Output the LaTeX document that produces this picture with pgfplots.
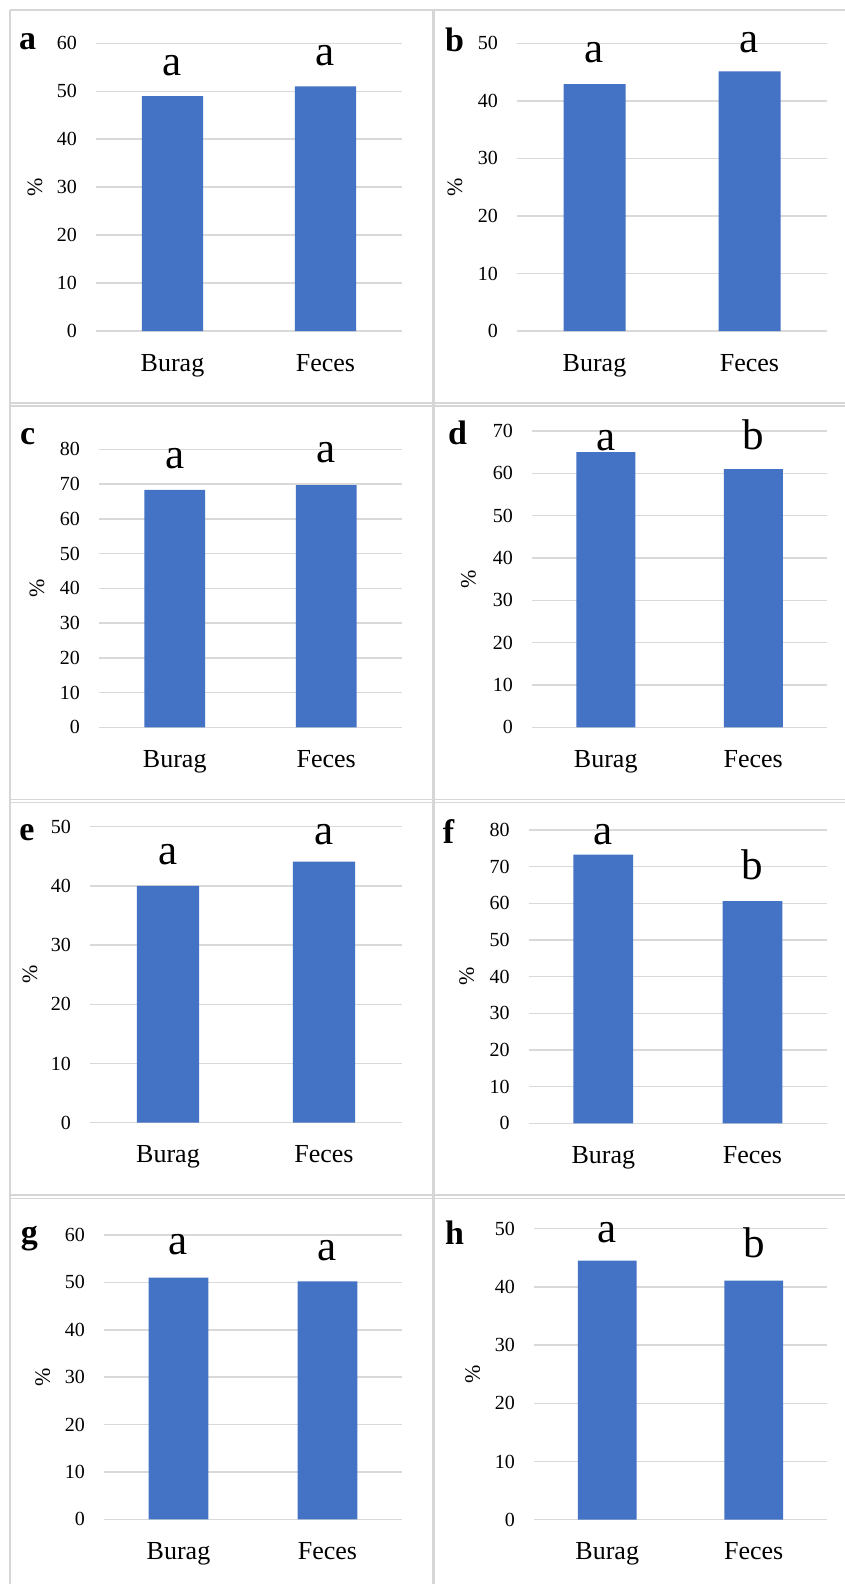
\documentclass[border=0pt]{standalone}
\usepackage{fontspec}
\setmainfont{Liberation Serif}
\usepackage{pgfplots}
\pgfplotsset{compat=1.18}
\definecolor{barblue}{HTML}{4472C4}
\definecolor{gridgray}{HTML}{D9D9D9}
\definecolor{framegray}{HTML}{D6D6D6}
\newcommand{\tickfont}{\fontsize{20}{24}\selectfont}
\newcommand{\catfont}{\fontsize{26}{30}\selectfont}
\newcommand{\sigfont}{\fontsize{43}{50}\selectfont}
\newcommand{\panfont}{\fontsize{34}{40}\selectfont\bfseries}
\newcommand{\pctfont}{\fontsize{22}{26}\selectfont}
\pgfplotsset{panel/.style={
  scale only axis, anchor=south west,
  ymin=0, xmin=-0.5, xmax=1.5,
  xtick={0,1}, xticklabels={Burag,Feces},
  axis line style={draw=none}, major tick length=0pt,
  ymajorgrids, grid style={gridgray, line width=1.5pt},
  xticklabel style={font=\catfont, anchor=north, inner sep=0pt, yshift=-23pt},
  yticklabel style={font=\tickfont, anchor=east, inner sep=0pt, xshift=-19pt},
  /pgf/number format/assume math mode=true,
  clip=false, ybar, bar width=0.4,
}}
\begin{document}
\begin{tikzpicture}
\useasboundingbox[fill=white] (0,0) rectangle (845pt,-1584pt);
% frame lines
\begin{scope}[framegray]
\draw[line width=2pt] (10pt,-10pt) -- (845pt,-10pt);
\draw[line width=2pt] (10pt,-10pt) -- (10pt,-1584pt);
\draw[line width=3pt] (433.5pt,-10pt) -- (433.5pt,-1584pt);
\foreach \yy in {403,406,799.5,802.5,1195,1198.5}{
  \draw[line width=1.3pt] (10pt,-\yy pt) -- (845pt,-\yy pt);
}
\end{scope}

% panel a
\begin{axis}[panel, at={(96pt,-331pt)}, width=306pt, height=287.7pt, ymax=60, ytick={0,10,...,60}]
\addplot[fill=barblue, draw=none] coordinates {(0,49) (1,51)};
\node[rotate=90, font=\pctfont] at ([xshift=-61pt]rel axis cs:0,0.5) {\%};
\node[anchor=base, font=\sigfont] at ([yshift=21pt]axis cs:0,49) {a};
\node[anchor=base, font=\sigfont] at ([yshift=21pt]axis cs:1,51) {a};
\end{axis}
\node[anchor=base west, font=\panfont, inner sep=0pt] at (19pt,-49.3pt) {a};

% panel b
\begin{axis}[panel, at={(517pt,-331pt)}, width=310pt, height=287.7pt, ymax=50, ytick={0,10,...,50}]
\addplot[fill=barblue, draw=none] coordinates {(0,42.9) (1,45.1)};
\node[rotate=90, font=\pctfont] at ([xshift=-62pt]rel axis cs:0,0.5) {\%};
\node[anchor=base, font=\sigfont] at ([yshift=21.7pt]axis cs:0,42.9) {a};
\node[anchor=base, font=\sigfont] at ([yshift=19pt]axis cs:1,45.1) {a};
\end{axis}
\node[anchor=base west, font=\panfont, inner sep=0pt] at (445pt,-51.7pt) {b};

% panel c
\begin{axis}[panel, at={(99pt,-727.3pt)}, width=303pt, height=278pt, ymax=80, ytick={0,10,...,80}]
\addplot[fill=barblue, draw=none] coordinates {(0,68.3) (1,69.7)};
\node[rotate=90, font=\pctfont] at ([xshift=-62pt]rel axis cs:0,0.5) {\%};
\node[anchor=base, font=\sigfont] at ([yshift=21.7pt]axis cs:0,68.3) {a};
\node[anchor=base, font=\sigfont] at ([yshift=22.6pt]axis cs:1,69.7) {a};
\end{axis}
\node[anchor=base west, font=\panfont, inner sep=0pt] at (20pt,-444pt) {c};

% panel d
\begin{axis}[panel, at={(532pt,-727.3pt)}, width=295pt, height=296.3pt, ymax=70, ytick={0,10,...,70}]
\addplot[fill=barblue, draw=none] coordinates {(0,65) (1,61)};
\node[rotate=90, font=\pctfont] at ([xshift=-63.5pt]rel axis cs:0,0.5) {\%};
\node[anchor=base, font=\sigfont] at ([yshift=2pt]axis cs:0,65) {a};
\node[anchor=base, font=\sigfont] at ([yshift=19.3pt]axis cs:1,61) {b};
\end{axis}
\node[anchor=base west, font=\panfont, inner sep=0pt] at (448pt,-444pt) {d};

% panel e
\begin{axis}[panel, at={(90pt,-1122.7pt)}, width=312pt, height=296pt, ymax=50, ytick={0,10,...,50}]
\addplot[fill=barblue, draw=none] coordinates {(0,40) (1,44.1)};
\node[rotate=90, font=\pctfont] at ([xshift=-60pt]rel axis cs:0,0.5) {\%};
\node[anchor=base, font=\sigfont] at ([yshift=21.7pt]axis cs:0,40) {a};
\node[anchor=base, font=\sigfont] at ([yshift=16.7pt]axis cs:1,44.1) {a};
\end{axis}
\node[anchor=base west, font=\panfont, inner sep=0pt] at (19.3pt,-840.7pt) {e};

% panel f
\begin{axis}[panel, at={(528.7pt,-1123.3pt)}, width=298.3pt, height=293.3pt, ymax=80, ytick={0,10,...,80}]
\addplot[fill=barblue, draw=none] coordinates {(0,73.3) (1,60.6)};
\node[rotate=90, font=\pctfont] at ([xshift=-62pt]rel axis cs:0,0.5) {\%};
\node[anchor=base, font=\sigfont] at ([yshift=10pt]axis cs:0,73.3) {a};
\node[anchor=base, font=\sigfont] at ([yshift=22pt]axis cs:1,60.6) {b};
\end{axis}
\node[anchor=base west, font=\panfont, inner sep=0pt] at (442.7pt,-843.3pt) {f};

% panel g
\begin{axis}[panel, at={(104pt,-1519.3pt)}, width=298pt, height=284.3pt, ymax=60, ytick={0,10,...,60}]
\addplot[fill=barblue, draw=none] coordinates {(0,51) (1,50.2)};
\node[rotate=90, font=\pctfont] at ([xshift=-61.3pt]rel axis cs:0,0.5) {\%};
\node[anchor=base, font=\sigfont] at ([yshift=22.7pt]axis cs:0,51) {a};
\node[anchor=base, font=\sigfont] at ([yshift=21pt]axis cs:1,50.2) {a};
\end{axis}
\node[anchor=base west, font=\panfont, inner sep=0pt] at (20.7pt,-1243pt) {g};

% panel h
\begin{axis}[panel, at={(534pt,-1519.7pt)}, width=293pt, height=291pt, ymax=50, ytick={0,10,...,50}]
\addplot[fill=barblue, draw=none] coordinates {(0,44.5) (1,41.1)};
\node[rotate=90, font=\pctfont] at ([xshift=-61.3pt]rel axis cs:0,0.5) {\%};
\node[anchor=base, font=\sigfont] at ([yshift=18pt]axis cs:0,44.5) {a};
\node[anchor=base, font=\sigfont] at ([yshift=23pt]axis cs:1,41.1) {b};
\end{axis}
\node[anchor=base west, font=\panfont, inner sep=0pt] at (445pt,-1244pt) {h};
\end{tikzpicture}
\end{document}
